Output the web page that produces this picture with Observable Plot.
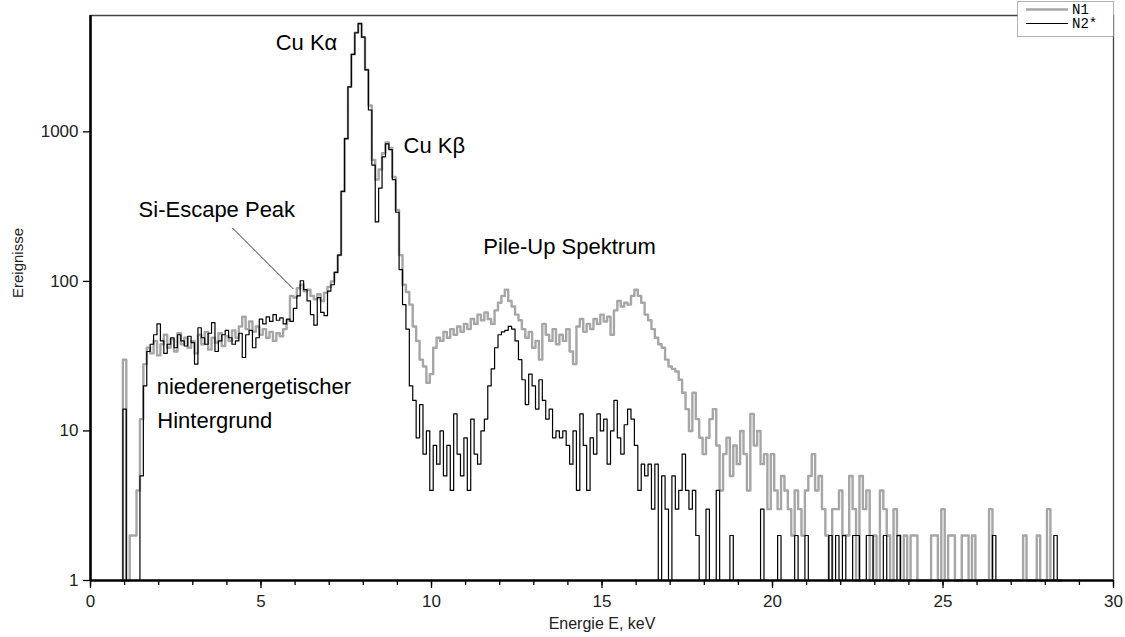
<!DOCTYPE html>
<html>
<head>
<meta charset="utf-8">
<script src="https://cdn.jsdelivr.net/npm/d3@7"></script>
<script src="https://cdn.jsdelivr.net/npm/@observablehq/plot@0.6"></script>
<style>
  html, body { margin: 0; padding: 0; background: #fff; }
  #chart svg { display: block; }
</style>
</head>
<body>
<div id="chart"></div>
<script>
// Channel calibration of the spectra (keV)
const channelStart = 0.9;
const channelWidth = 0.1;

// Counts per channel, spectrum N1 (grey), one row per keV
const countsN1 = [
  1,
  30, 1, 2, 2, 4, 12, 28, 36, 33, 40,
  32, 38, 44, 36, 41, 34, 45, 38, 42, 36,
  40, 33, 44, 38, 46, 35, 42, 39, 45, 37,
  43, 40, 47, 42, 50, 58, 48, 54, 46, 50,
  44, 48, 42, 46, 40, 45, 43, 48, 55, 80,
  78, 90, 95, 86, 88, 80, 76, 82, 74, 84,
  92, 100, 115, 150, 400, 900, 2000, 3300, 4600, 5300,
  4300, 2600, 1500, 650, 480, 560, 720, 850, 780, 500,
  300, 150, 95, 85, 70, 50, 40, 30, 27, 21,
  24, 36, 42, 40, 46, 42, 48, 44, 50, 46,
  52, 48, 56, 52, 60, 55, 62, 56, 52, 64,
  72, 80, 88, 74, 68, 60, 55, 48, 42, 46,
  36, 40, 30, 52, 44, 40, 48, 38, 44, 40,
  48, 34, 28, 50, 56, 46, 52, 48, 56, 52,
  60, 54, 58, 44, 64, 74, 68, 72, 70, 80,
  88, 80, 72, 60, 55, 48, 42, 38, 36, 30,
  27, 26, 25, 22, 18, 14, 10, 18, 12, 9,
  7, 9, 12, 14, 8, 4, 7, 9, 5, 8,
  6, 10, 7, 4, 13, 8, 10, 6, 7, 3,
  7, 4, 3, 5, 4, 3, 2, 4, 3, 2,
  4, 5, 7, 4, 5, 3, 2, 1, 3, 3,
  4, 2, 2, 5, 3, 1, 5, 3, 4, 1,
  2, 1, 4, 3, 2, 1, 3, 2, 1, 2,
  1, 2, 2, 1, 1, 1, 1, 2, 2, 1,
  3, 1, 2, 2, 1, 1, 2, 2, 1, 2,
  1, 1, 1, 1, 3, 1, 1, 1, 1, 1,
  1, 1, 1, 1, 2, 1, 1, 1, 2, 1,
  1, 3, 1, 1, 1, 1
];

// Counts per channel, spectrum N2* (black)
const countsN2 = [
  1,
  14, 1, 1, 1, 1, 5, 20, 34, 38, 44,
  52, 40, 33, 38, 42, 36, 44, 40, 37, 43,
  39, 28, 49, 42, 38, 45, 53, 34, 40, 44,
  47, 42, 38, 40, 45, 31, 44, 47, 36, 42,
  56, 52, 58, 54, 60, 55, 57, 52, 56, 54,
  66, 80, 101, 88, 74, 60, 51, 78, 62, 59,
  86, 95, 115, 150, 400, 900, 2000, 3300, 4600, 5300,
  4300, 2600, 1400, 600, 250, 420, 680, 830, 760, 480,
  290, 120, 70, 48, 20, 16, 9, 15, 7, 10,
  4, 8, 6, 10, 5, 8, 4, 13, 7, 5,
  9, 4, 12, 7, 6, 10, 12, 20, 26, 36,
  44, 46, 47, 50, 48, 40, 30, 22, 15, 24,
  20, 14, 22, 16, 12, 14, 9, 10, 9, 10,
  8, 6, 10, 4, 13, 8, 4, 9, 7, 13,
  10, 12, 6, 10, 16, 9, 7, 11, 14, 12,
  8, 4, 6, 5, 6, 3, 6, 1, 5, 3,
  1, 5, 3, 4, 7, 4, 3, 4, 2, 1,
  1, 3, 1, 1, 4, 1, 1, 1, 2, 1,
  1, 1, 1, 1, 1, 1, 1, 3, 1, 1,
  1, 1, 2, 1, 1, 1, 1, 2, 1, 1,
  2, 1, 1, 1, 1, 1, 1, 2, 1, 2,
  1, 2, 1, 1, 2, 2, 1, 1, 2, 2,
  1, 1, 1, 2, 1, 1, 1, 2, 1, 1,
  1, 1, 1, 1, 1, 1, 1, 1, 1, 1,
  1, 1, 1, 1, 1, 1, 1, 1, 1, 1,
  1, 1, 1, 1, 1, 2, 1, 1, 1, 1,
  1, 1, 1, 1, 1, 1, 1, 1, 1, 1,
  1, 1, 1, 2, 1, 1
];

const seriesNames = ["N1", "N2*"];
const xMajorTicks = [0, 5, 10, 15, 20, 25, 30];
const xMinorTicks = [0, 1, 2, 3, 4, 5, 6, 7, 8, 9, 10, 11, 12, 13, 14, 15,
                     16, 17, 18, 19, 20, 21, 22, 23, 24, 25, 26, 27, 28, 29, 30];
const yTicks = [1, 10, 100, 1000];
const xLabel = "Energie E, keV";
const yLabel = "Ereignisse";

// Peak labels, anchored at (keV, counts) on their baseline
const peakLabels = [
  {text: "Cu K\u03B1", e: 5.43, n: 3525},
  {text: "Cu K\u03B2", e: 9.18, n: 723},
  {text: "Si-Escape Peak", e: 1.41, n: 270},
  {text: "Pile-Up Spektrum", e: 11.52, n: 153},
  {text: "niederenergetischer", e: 1.94, n: 17.8},
  {text: "Hintergrund", e: 1.96, n: 10.5}
];
// Pointer from the Si-Escape label to its peak
const escapePointer = [{e1: 4.16, n1: 228, e2: 5.95, n2: 89}];

const toRows = (counts) => counts.map((n, i) => ({
  e: +(channelStart + i * channelWidth).toFixed(2),
  n
}));
const rowsN1 = toRows(countsN1);
const rowsN2 = toRows(countsN2);

const font = "'Liberation Sans', Arial, sans-serif";

const chart = Plot.plot({
  width: 1125,
  height: 637,
  marginLeft: 90,
  marginRight: 12,
  marginTop: 15,
  marginBottom: 57,
  style: {fontFamily: font, fontSize: "17px", background: "#fff", color: "#000", overflow: "visible"},
  x: {domain: [0, 30]},
  y: {type: "log", domain: [1, 6000]},
  marks: [
    Plot.line(rowsN1, {x: "e", y: "n", curve: "step", stroke: "#a6a6a6", strokeWidth: 2.4}),
    Plot.line(rowsN2, {x: "e", y: "n", curve: "step", stroke: "#000", strokeWidth: 1.2}),
    // frame: thin top and right, heavy left and bottom
    Plot.ruleY([6000], {stroke: "#444", strokeWidth: 1.3}),
    Plot.ruleX([30], {stroke: "#444", strokeWidth: 1.3}),
    Plot.ruleX([0], {stroke: "#000", strokeWidth: 2.6}),
    Plot.ruleY([1], {stroke: "#000", strokeWidth: 2.6}),
    Plot.axisX(xMinorTicks, {tickSize: 5, text: null, label: null, strokeWidth: 1.3}),
    Plot.axisX(xMajorTicks, {tickSize: 8, tickPadding: 6, label: null, fontSize: 17,
                             fill: "#222", strokeWidth: 1.3, tickFormat: (d) => String(d)}),
    Plot.axisY(yTicks, {tickSize: 7, tickPadding: 5, label: null, fontSize: 17,
                        fill: "#222", strokeWidth: 1.3, tickFormat: (d) => String(d)}),
    Plot.text([xLabel], {frameAnchor: "bottom", dy: 48, fontSize: 16, fill: "#222"}),
    Plot.text([yLabel], {frameAnchor: "left", dx: -72, rotate: -90, fontSize: 15, fill: "#222"}),
    Plot.link(escapePointer, {x1: "e1", y1: "n1", x2: "e2", y2: "n2", stroke: "#333", strokeWidth: 1}),
    Plot.text(peakLabels, {x: "e", y: "n", text: "text", textAnchor: "start", lineAnchor: "bottom",
                           fontSize: 22, fill: "#000"})
  ]
});

document.getElementById("chart").appendChild(chart);

// Legend box in the upper right corner
const svg = d3.select(chart);
const lg = svg.append("g").attr("text-anchor", "start");
const box = {x: 1017.5, y: 1.5, w: 96, h: 35};
lg.append("rect")
  .attr("x", box.x).attr("y", box.y).attr("width", box.w).attr("height", box.h)
  .attr("fill", "#fff").attr("stroke", "#666").attr("stroke-dasharray", "1,1");
const legendStyles = [
  {stroke: "#a6a6a6", width: 2.4},
  {stroke: "#000", width: 1.2}
];
seriesNames.forEach((name, i) => {
  const cy = box.y + 8 + i * 14;
  lg.append("line")
    .attr("x1", 1026).attr("x2", 1068).attr("y1", cy).attr("y2", cy)
    .attr("stroke", legendStyles[i].stroke).attr("stroke-width", legendStyles[i].width);
  lg.append("text")
    .attr("x", 1072).attr("y", cy).attr("dy", "0.35em")
    .attr("text-anchor", "start")
    .attr("font-family", "'Liberation Mono', 'DejaVu Sans Mono', monospace")
    .attr("font-size", 14).attr("fill", "#000")
    .text(name);
});
</script>
</body>
</html>
